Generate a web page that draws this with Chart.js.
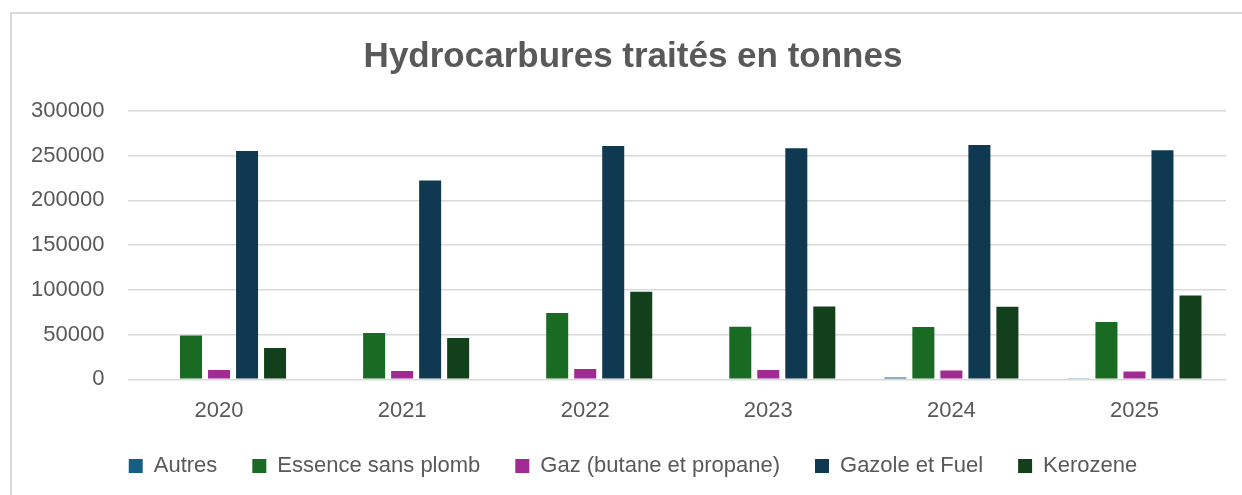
<!DOCTYPE html>
<html>
<head>
<meta charset="utf-8">
<script src="https://cdn.jsdelivr.net/npm/chart.js@4"></script>
<style>
html,body{margin:0;padding:0;background:#fff;}
#wrap{position:relative;width:1242px;height:495px;}
</style>
</head>
<body>
<div id="wrap"><canvas id="c" width="1242" height="495"></canvas></div>
<script>
const categories = ['2020', '2021', '2022', '2023', '2024', '2025'];
const autres = [null, null, null, null, 1900, 1200];
const essenceSansPlomb = [49000, 51700, 74100, 58800, 58400, 64000];
const gazButanePropane = [10400, 9300, 11500, 10400, 9700, 8600];
const gazoleEtFuel = [255300, 222200, 260900, 258300, 262000, 256000];
const kerozene = [35000, 46100, 97900, 81500, 81100, 93800];
const seriesNames = ['Autres', 'Essence sans plomb', 'Gaz (butane et propane)', 'Gazole et Fuel', 'Kerozene'];
const yTickValues = [0, 50000, 100000, 150000, 200000, 250000, 300000];
const titleText = 'Hydrocarbures traités en tonnes';

const colors = ['#156082', '#196B24', '#A02B93', '#0F3951', '#12401A'];
const seriesData = [autres, essenceSansPlomb, gazButanePropane, gazoleEtFuel, kerozene];
const FONT = "'Liberation Sans', Arial, sans-serif";
const TEXT = '#595959';

const frame = {
  id: 'frame',
  afterLayout(chart) {
    // centre title and legend on the chart frame rather than the canvas
    if (chart.titleBlock) chart.titleBlock.left += 40;
    if (chart.legend) chart.legend.left += 40;
  },
  beforeDraw(chart) {
    const ctx = chart.ctx;
    ctx.save();
    ctx.fillStyle = '#ffffff';
    ctx.fillRect(0, 0, chart.width, chart.height);
    ctx.strokeStyle = '#d9d9d9';
    ctx.lineWidth = 2;
    ctx.beginPath();
    ctx.moveTo(11, chart.height);
    ctx.lineTo(11, 13);
    ctx.lineTo(chart.width, 13);
    ctx.stroke();
    ctx.restore();
  }
};

new Chart(document.getElementById('c'), {
  type: 'bar',
  data: {
    labels: categories,
    datasets: seriesNames.map((name, i) => ({
      label: name,
      data: seriesData[i],
      backgroundColor: colors[i],
      borderWidth: 0,
      categoryPercentage: 0.765,
      barPercentage: 0.786
    }))
  },
  options: {
    responsive: false,
    animation: false,
    layout: { padding: { left: 0, right: 16, top: 0, bottom: 8 } },
    plugins: {
      title: {
        display: true,
        text: titleText,
        color: TEXT,
        font: { family: FONT, size: 35, weight: 'bold' },
        padding: { top: 36, bottom: 33 }
      },
      legend: {
        position: 'bottom',
        labels: {
          color: TEXT,
          font: { family: FONT, size: 22 },
          boxWidth: 14,
          boxHeight: 14,
          padding: 35
        }
      },
      tooltip: { enabled: false }
    },
    scales: {
      x: {
        afterFit(scale) { scale.height = 40.7; },
        grid: { display: false, drawTicks: false },
        border: { display: false },
        ticks: { color: TEXT, font: { family: FONT, size: 22 }, padding: 18 }
      },
      y: {
        min: 0,
        max: 300000,
        afterFit(scale) { scale.width = 127.5; },
        afterBuildTicks(scale) { scale.ticks = yTickValues.map(v => ({ value: v })); },
        grid: { color: '#d9d9d9', lineWidth: 1.5, drawTicks: false },
        border: { display: false },
        ticks: {
          color: TEXT,
          font: { family: FONT, size: 22 },
          padding: 23,
          callback: (v) => String(v)
        }
      }
    }
  },
  plugins: [frame]
});
</script>
</body>
</html>
